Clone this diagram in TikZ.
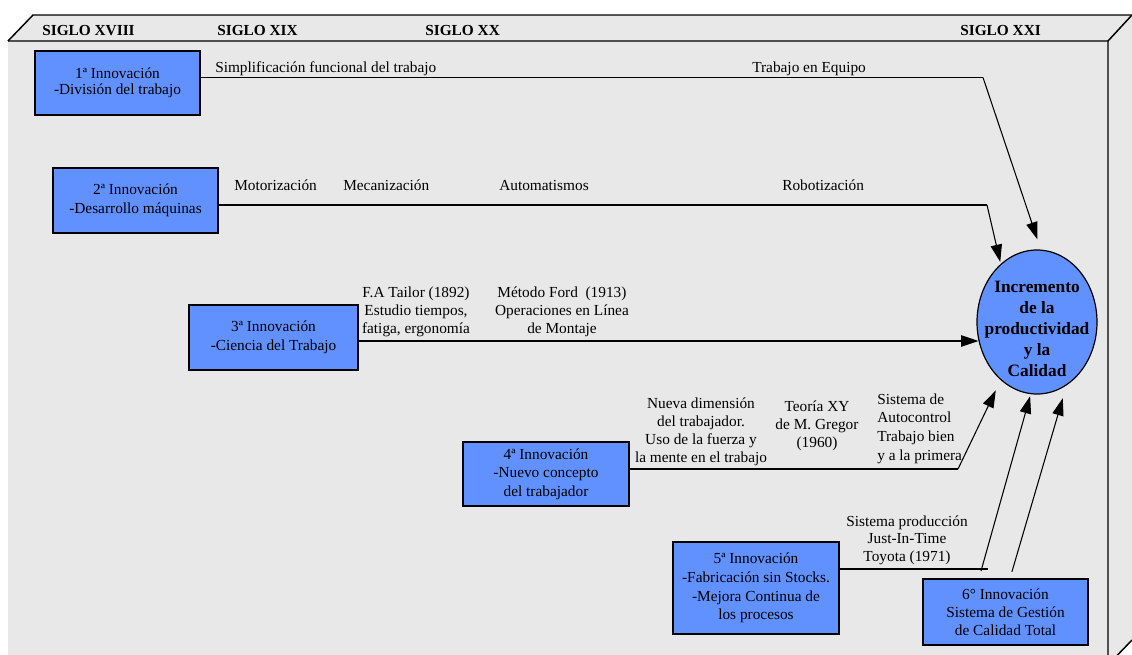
\documentclass[tikz,border=0pt]{standalone}
\usepackage{fontspec}
\setmainfont{Liberation Serif}
\usetikzlibrary{arrows.meta,shapes.geometric}
\definecolor{boxblue}{HTML}{6191FF}
\definecolor{panel}{HTML}{E8E8E8}
\tikzset{
  frame/.style={line width=1.1pt, draw=black},
  innov/.style={draw=black, line width=1.2pt, fill=boxblue, inner sep=0pt, align=center},
  lbl/.style={inner sep=0pt, font=\fontsize{11.5}{13.5}\selectfont},
  multi/.style={lbl, align=center},
  century/.style={inner sep=0pt, font=\fontsize{11.5}{13.5}\selectfont\bfseries},
  link/.style={line width=1pt, draw=black},
  head/.style={-{Triangle[length=13pt,width=8.5pt]}},
  feed/.style={line width=0.8pt, draw=black, head},
}
\begin{document}
\begin{tikzpicture}[x=0.75pt,y=-0.75pt]
\useasboundingbox (0,0) rectangle (1132,654);
\clip (0,0) rectangle (1132,654);

% three-dimensional panel: front face, top face and right side
\fill[panel] (8,41) -- (33,15) -- (1132,15) -- (1132,640) -- (1108,665) -- (8,665) -- cycle;
\draw[frame] (8,41) -- (33,15) -- (1132,15);
\draw[frame] (8,41) -- (1108,41) -- (1132,15);
\draw[frame] (1108,41) -- (1108,665) -- (1132,640);

% century headings
\node[century, anchor=base west] (s18) at (42,35) {SIGLO XVIII};
\node[century, anchor=base west] (s19) at (217,35) {SIGLO XIX};
\node[century, anchor=base west] (s20) at (425,35) {SIGLO XX};
\node[century, anchor=base west] (s21) at (960,35) {SIGLO XXI};

% innovation boxes
\node[innov, minimum width=123.75pt, minimum height=48pt,
      font=\fontsize{11.5}{12}\selectfont] (b1) at (117.5,83)
      {1ª Innovación\\-División del trabajo};
\node[innov, minimum width=123.75pt, minimum height=48.75pt,
      font=\fontsize{11.5}{14}\selectfont] (b2) at (135.5,200.5)
      {2ª Innovación\\-Desarrollo máquinas};
\node[innov, minimum width=126.75pt, minimum height=48.75pt,
      font=\fontsize{11.5}{14}\selectfont] (b3) at (273.5,337.5)
      {3ª Innovación\\-Ciencia del Trabajo};
\node[innov, minimum width=124.5pt, minimum height=48pt,
      font=\fontsize{11.5}{14}\selectfont] (b4) at (546,474)
      {4ª Innovación\\-Nuevo concepto\\del trabajador};
\node[innov, minimum width=124.5pt, minimum height=69pt,
      font=\fontsize{11.5}{14}\selectfont] (b5) at (756,588)
      {5ª Innovación\\-Fabricación sin Stocks.\\-Mejora Continua de\\los procesos};
\node[innov, minimum width=123.75pt, minimum height=49.5pt,
      font=\fontsize{11.5}{13.5}\selectfont] (b6) at (1005.5,612)
      {6° Innovación\\Sistema de Gestión\\de Calidad Total};

% goal
\node[draw=black, ellipse, fill=boxblue, line width=0.9pt, inner sep=0pt,
      minimum width=90pt, minimum height=108pt] (ell) at (1037,322) {};
\node[inner sep=0pt, align=center, font=\fontsize{13}{15.75}\selectfont\bfseries]
      (elltxt) at (1037,329) {Incremento\\de la\\productividad\\y la\\Calidad};

% labels along the timelines
\node[lbl, anchor=base west] (t1a) at (215,72) {Simplificación funcional del trabajo};
\node[lbl, anchor=base west] (t1b) at (752,72) {Trabajo en Equipo};

\node[lbl, anchor=base west] (t2a) at (234,190) {Motorización};
\node[lbl, anchor=base west] (t2b) at (343,190) {Mecanización};
\node[lbl, anchor=base west] (t2c) at (499,190) {Automatismos};
\node[lbl, anchor=base west] (t2d) at (782,190) {Robotización};

\node[multi] (t3a) at (416,312) {F.A Tailor (1892)\\Estudio tiempos,\\fatiga, ergonomía};
\node[multi] (t3b) at (562,312) {Método Ford\ \ (1913)\\Operaciones en Línea\\de Montaje};

\node[multi] (t4a) at (701,432) {Nueva dimensión\\del trabajador.\\Uso de la fuerza y\\la mente en el trabajo};
\node[multi] (t4b) at (817,426) {Teoría XY\\de M. Gregor\\(1960)};
\node[lbl, align=left, anchor=west, font=\fontsize{11.5}{14}\selectfont] (t4c) at (877,428.5)
      {Sistema de\\Autocontrol\\Trabajo bien\\y a la primera};

\node[multi, font=\fontsize{11.5}{13}\selectfont] (t5a) at (907,540) {Sistema producción\\Just-In-Time\\Toyota (1971)};

% timelines and their arrows into the goal
\coordinate (k1) at (983,77.5);
\draw[link] (b1.east |- k1) -- (k1);
\draw[feed, shorten >=8pt] (k1) -- (ell.87);

\coordinate (k2) at (987,205);
\draw[link] (b2.east |- k2) -- (k2);
\draw[feed, shorten >=1.5pt] (k2) -- (ell.122);

\draw[link, head] (b3.east |- ell.198) -- (ell.198);

\coordinate (k4) at (958,469);
\draw[link] (b4.east |- k4) -- (k4);
\draw[feed, shorten >=8.5pt] (k4) -- (ell.238);

\coordinate (k5) at (988,569);
\coordinate (k5a) at (981,571);
\draw[link] (b5.east |- k5) -- (k5);
\draw[feed, shorten >=1.5pt] (k5a) -- (ell.265);

\draw[feed, shorten <=5pt, shorten >=10pt] ([xshift=3.4pt]b6.north) -- (ell.295);
\end{tikzpicture}
\end{document}
